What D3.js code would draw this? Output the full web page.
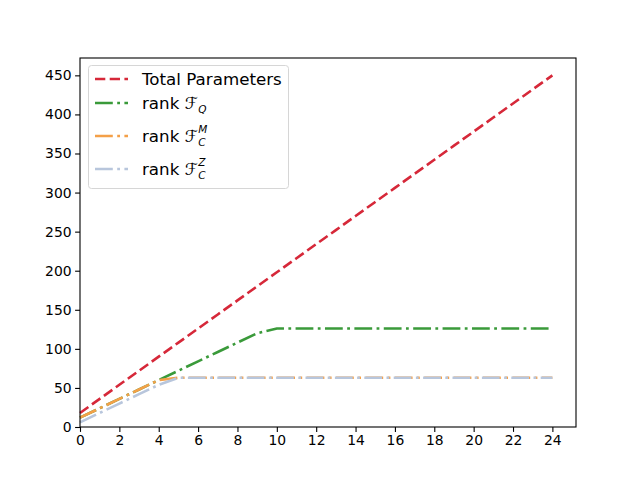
<!DOCTYPE html>
<html><head><meta charset="utf-8">
<script src="https://cdn.jsdelivr.net/npm/d3@7"></script>
<style>body{margin:0;background:#fff}svg{display:block}text{font-family:"DejaVu Sans",sans-serif}</style>
</head><body><svg id="c" width="640" height="480"></svg>
<script>
const xs = d3.range(0, 25);
const totalParams = [18,36,54,72,90,108,126,144,162,180,198,216,234,252,270,288,306,324,342,360,378,396,414,432,450];
const rankFQ = [12,24,36,48,60,72,84,96,108,120,126,126,126,126,126,126,126,126,126,126,126,126,126,126,126];
const rankFCM = [12,24,36,48,60,63,63,63,63,63,63,63,63,63,63,63,63,63,63,63,63,63,63,63,63];
const rankFCZ = [6,18,30,42,54,63,63,63,63,63,63,63,63,63,63,63,63,63,63,63,63,63,63,63,63];
const xTicks = d3.range(0, 25, 2);
const yTicks = d3.range(0, 451, 50);

const svg = d3.select("#c");
const L = 80, R = 576, T = 58, B = 427;
const x = d3.scaleLinear().domain([0, 25.2]).range([L, R]);
const y = d3.scaleLinear().domain([0, 472.2]).range([B, T]);

const DASHED = "10.3,4.4", DASHDOT = "17.8,4.4,2.8,4.4";
const series = [
  {v: totalParams, color: "#d62839", dash: DASHED, label: "Total Parameters"},
  {v: rankFQ, color: "#3a9a3a", dash: DASHDOT, sub: "Q"},
  {v: rankFCM, color: "#f4a048", dash: DASHDOT, sub: "C", sup: "M"},
  {v: rankFCZ, color: "#b8c6dc", dash: DASHDOT, sub: "C", sup: "Z"}
];
const line = d3.line().x((d,i)=>x(xs[i])).y(d=>y(d));
const g = svg.append("g");
series.forEach(s => {
  g.append("path").attr("d", line(s.v)).attr("fill","none")
   .attr("stroke", s.color).attr("stroke-width", 2.6).attr("stroke-dasharray", s.dash);
});

// axes
const xa = svg.append("g").attr("transform", `translate(0,${B})`)
  .call(d3.axisBottom(x).tickValues(xTicks).tickSize(4.9).tickPadding(3.5).tickFormat(d3.format("d")));
const ya = svg.append("g").attr("transform", `translate(${L},0)`)
  .call(d3.axisLeft(y).tickValues(yTicks).tickSize(4.9).tickPadding(3.5).tickFormat(d3.format("d")));
[xa, ya].forEach(a => {
  a.select(".domain").remove();
  a.selectAll("text").attr("font-size", 13.9).attr("fill", "#000").style("font-family", "DejaVu Sans");
  a.selectAll("line").attr("stroke", "#000").attr("stroke-width", 1.1);
});
svg.append("rect").attr("x", L).attr("y", T).attr("width", R-L).attr("height", B-T)
  .attr("fill","none").attr("stroke","#000").attr("stroke-width",1.1);

// legend
const lg = svg.append("g");
lg.append("rect").attr("x", 88.5).attr("y", 65.5).attr("width", 200).attr("height", 123).attr("rx", 3)
  .attr("fill", "#fff").attr("fill-opacity", 0.8).attr("stroke", "#d6d6d6").attr("stroke-width", 1);
const rows = [79, 103, 136, 169];
const FS = 16.7, SFS = 10.5;
series.forEach((s, i) => {
  const yy = rows[i];
  lg.append("line").attr("x1", 95).attr("x2", 128).attr("y1", yy).attr("y2", yy)
    .attr("stroke", s.color).attr("stroke-width", 2.6).attr("stroke-dasharray", s.dash);
  const t = lg.append("text").attr("x", 142).attr("y", yy + 6).attr("font-size", FS).attr("fill", "#000");
  if (i === 0) { t.text(s.label); return; }
  t.append("tspan").text("rank ");
  t.append("tspan").attr("font-style", "italic").text("\u2131");
  const xe = 142 + t.node().getComputedTextLength() + 0.5;
  if (s.sup) {
    lg.append("text").attr("x", xe).attr("y", yy - 3).attr("font-size", SFS)
      .attr("font-style", "italic").attr("fill", "#000").text(s.sup);
    lg.append("text").attr("x", xe).attr("y", yy + 9.5).attr("font-size", SFS)
      .attr("font-style", "italic").attr("fill", "#000").text(s.sub);
  } else {
    lg.append("text").attr("x", xe).attr("y", yy + 9.5).attr("font-size", SFS)
      .attr("font-style", "italic").attr("fill", "#000").text(s.sub);
  }
});
</script></body></html>
